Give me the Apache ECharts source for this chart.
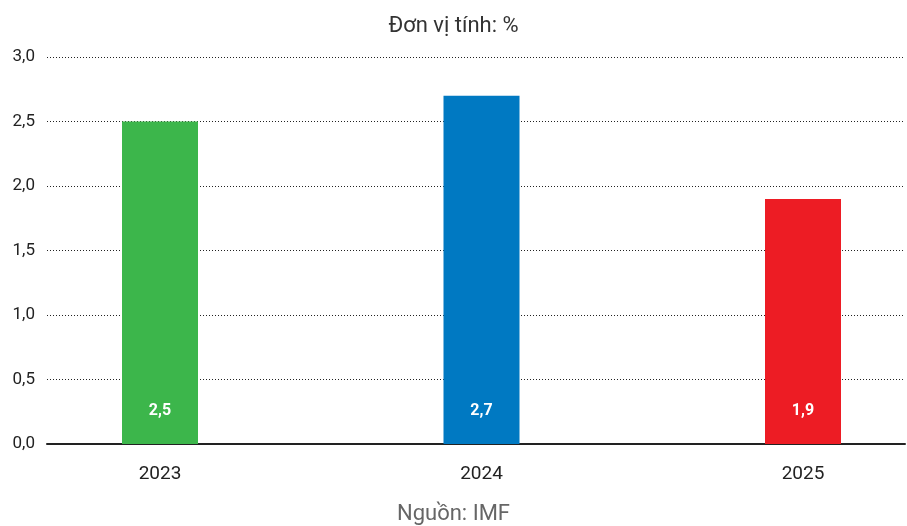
<!doctype html>
<html>
<head>
<meta charset="UTF-8">
<title></title>
<script src="https://cdn.jsdelivr.net/npm/echarts@6/dist/echarts.min.js"></script>
<style>
  html, body { margin: 0; padding: 0; background: #fff; }
  #main { width: 907px; height: 526px; }
</style>
</head>
<body>
<div id="main"></div>
<script type="text/javascript">
// du lieu
var years = ['2023', '2024', '2025'];
var yearPos = [0, 1, 2];
var growth = [2.5, 2.7, 1.9];
var barColors = ['#3cb64b', '#0079c2', '#ed1c24'];
var unitText = 'Đơn vị tính: %';
var sourceText = 'Nguồn: IMF';

var font = 'Roboto';
var chart = echarts.init(document.getElementById('main'));

var barData = [];
for (var i = 0; i < growth.length; i++) {
  barData.push({ value: [yearPos[i], growth[i]], itemStyle: { color: barColors[i] } });
}

// cot cach nhau 321.5px, cot dau o x=160
var step = 321.5;
var xMin = -160 / step;
var xMax = (907 - 160) / step;

var option = {
  animation: false,
  backgroundColor: '#fff',
  title: [
    { text: unitText, left: 'center', top: 10,
      textStyle: { fontFamily: font, fontSize: 22, fontWeight: 'normal', color: '#333' } },
    { text: sourceText, left: 'center', top: 498,
      textStyle: { fontFamily: font, fontSize: 22, fontWeight: 'normal', color: '#666' } }
  ],
  grid: [
    // luoi + truc tung
    { left: 47, right: 2, top: 57, height: 387 },
    // cot
    { left: 0, right: 0, top: 57, height: 387 }
  ],
  xAxis: [
    { gridIndex: 0, type: 'value', min: 0, max: 1,
      axisLine: { show: true, onZero: false, lineStyle: { color: '#222', width: 2 } },
      axisTick: { show: false }, axisLabel: { show: false }, splitLine: { show: false } },
    { gridIndex: 1, type: 'value', min: xMin, max: xMax,
      axisLine: { show: false }, axisTick: { show: false }, splitLine: { show: false },
      axisLabel: { margin: 21, fontFamily: font, fontSize: 19, color: '#222',
        customValues: yearPos, hideOverlap: false,
        formatter: function (v) { return years[Math.round(v)]; } } }
  ],
  yAxis: [
    { gridIndex: 0, type: 'value', min: 0, max: 3, interval: 0.5,
      axisLine: { show: false }, axisTick: { show: false },
      axisLabel: { margin: 12, fontFamily: font, fontSize: 17, color: '#222',
        formatter: function (v) { return v.toFixed(1).replace('.', ','); } },
      splitLine: { show: true, lineStyle: { color: '#222', type: [1, 2], width: 1 } } },
    { gridIndex: 1, type: 'value', min: 0, max: 3, show: false }
  ],
  series: [
    { type: 'bar', xAxisIndex: 1, yAxisIndex: 1, barWidth: 76, data: barData, z: 3,
      label: { show: true, position: 'insideBottom', distance: 25,
        fontFamily: font, fontSize: 16, fontWeight: 'bold', color: '#fff',
        formatter: function (p) { return p.value[1].toFixed(1).replace('.', ','); } } }
  ]
};
chart.setOption(option);
</script>
</body>
</html>
